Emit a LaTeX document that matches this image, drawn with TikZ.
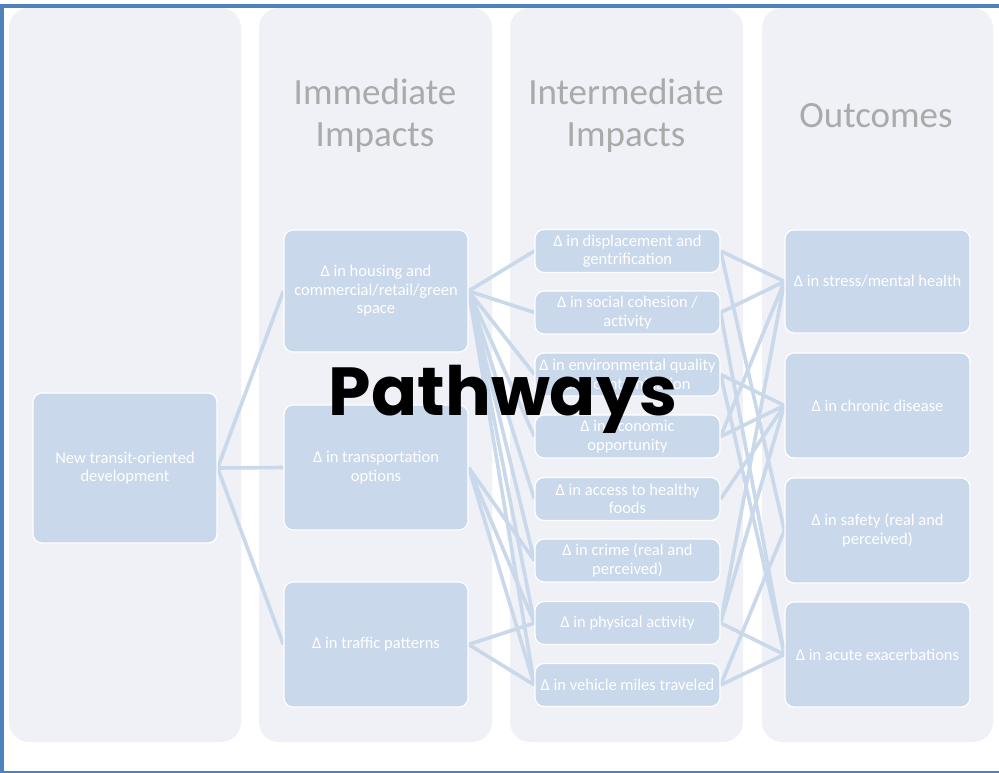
\documentclass[tikz,border=0pt]{standalone}
\usepackage{fontspec}
\usetikzlibrary{backgrounds}
\newfontfamily\carl{Carlito}
\newfontfamily\pop{Poppins}
\definecolor{colbg}{RGB}{239,241,246}
\definecolor{boxc}{RGB}{201,216,234}
\definecolor{frameblue}{RGB}{79,129,189}
\definecolor{headgray}{RGB}{170,170,170}
\tikzset{
  colbox/.style={fill=colbg, draw=none, rounded corners=20pt},
  box/.style={draw=white, line width=1.2pt, fill=boxc, rounded corners=9pt, text=white, align=center,
    font=\carl\fontsize{16.5}{18.5}\selectfont, inner sep=0pt},
  bigbox/.style={box, minimum width=184pt},
  midbox/.style={box, minimum width=185pt, minimum height=43pt},
  outbox/.style={box, minimum width=185pt, minimum height=105pt},
  link/.style={draw=boxc, line width=3.6pt},
  heading/.style={text=headgray, align=center, font=\carl\fontsize{37}{42}\selectfont},
}
\begin{document}
\begin{tikzpicture}[x=1pt,y=-1pt]
\useasboundingbox (0,0) rectangle (999,773);
% columns (background layer, drawn first)
\begin{scope}[on background layer]
\fill[white] (0,0) rectangle (999,773);
\path[colbox] (9,8) rectangle (241,742);
\path[colbox] (259,8) rectangle (492,742);
\path[colbox] (510,8) rectangle (743,742);
\path[colbox] (762,8) rectangle (993,742);
\end{scope}
% frame
\draw[frameblue, line width=3.5pt] (999,6) -- (2,6) -- (2,773);
\draw[frameblue, line width=2.5pt] (0,772) -- (999,772);
% headings
\node[heading] (h1) at (375,116) {Immediate\\Impacts};
\node[heading] (h2) at (626,116) {Intermediate\\Impacts};
\node[heading] (h3) at (876,116) {Outcomes};
% boxes
\node[bigbox, minimum height=150pt] (tod) at (125,468) {New transit-oriented\\development};
\node[bigbox, minimum height=122pt] (hou) at (376,291) {Δ in housing and\\commercial/retail/green\\space};
\node[bigbox, minimum height=125pt] (tra) at (376,467.5) {Δ in transportation\\options};
\node[bigbox, minimum height=125pt] (trf) at (376,644.5) {Δ in traffic patterns};
\node[midbox] (dis) at (627.5,251) {Δ in displacement and\\gentrification};
\node[midbox] (soc) at (627.5,312.5) {Δ in social cohesion /\\activity};
\node[midbox] (env) at (627.5,374.5) {Δ in environmental quality\\and contamination};
\node[midbox] (eco) at (627.5,436.5) {Δ in economic\\opportunity};
\node[midbox] (hea) at (627.5,499) {Δ in access to healthy\\foods};
\node[midbox] (cri) at (627.5,560.5) {Δ in crime (real and\\perceived)};
\node[midbox] (phy) at (627.5,623) {Δ in physical activity};
\node[midbox] (veh) at (627.5,685) {Δ in vehicle miles traveled};
\node[outbox, minimum height=103pt] (str) at (877.5,281.5) {Δ in stress/mental health};
\node[outbox] (chr) at (877.5,405.5) {Δ in chronic disease};
\node[outbox] (saf) at (877.5,530.5) {Δ in safety (real and\\perceived)};
\node[outbox] (acu) at (877.5,654.5) {Δ in acute exacerbations};
% connectors (background layer, after the columns)
\begin{scope}[on background layer]
\foreach \t in {hou,tra,trf} \draw[link] (tod.east) -- (\t.west);
\foreach \t in {dis,soc,env,eco,hea,cri,phy,veh} \draw[link] (hou.east) -- (\t.west);
\foreach \t in {cri,phy,veh} \draw[link] (tra.east) -- (\t.west);
\foreach \t in {phy,veh} \draw[link] (trf.east) -- (\t.west);
\foreach \s/\t in {dis/str,dis/saf,soc/str,soc/acu,env/chr,env/acu,eco/str,eco/chr,hea/chr,phy/str,phy/chr,phy/acu,veh/saf,veh/acu}
  \draw[link] (\s.east) -- (\t.west);
\end{scope}
% title
\node[font=\pop\bfseries\fontsize{68}{78}\selectfont, text=black] (title) at (503,399) {Pathways};
\end{tikzpicture}
\end{document}
